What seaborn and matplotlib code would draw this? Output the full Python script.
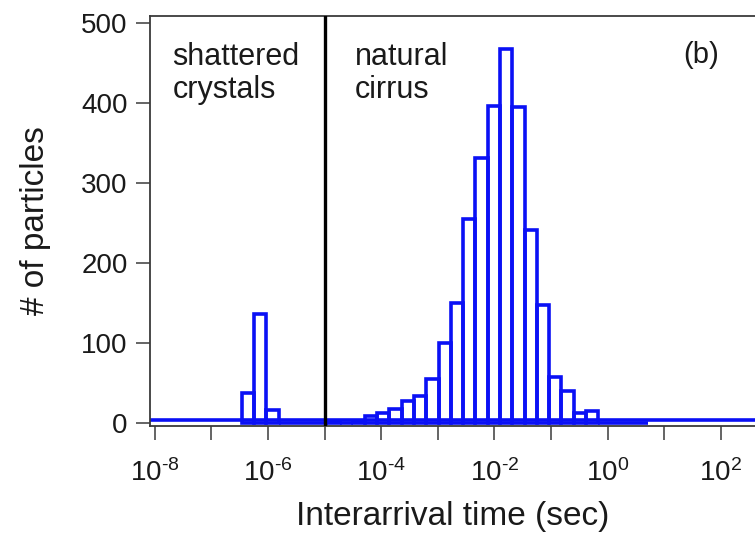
import numpy as np
import pandas as pd
import matplotlib
matplotlib.use("Agg")
import matplotlib.pyplot as plt
from matplotlib.ticker import FixedLocator, FuncFormatter, NullLocator
import seaborn as sns

# Histogram of particle interarrival times, bins 0.5 wide in ln(t)
bin_width_log10 = 0.5 / np.log(10)
first_edge_log10 = -1.901 - 21 * bin_width_log10
counts = [38, 136, 16, 0, 0, 0, 0, 3, 0, 3,
          9, 12, 18, 27, 34, 55, 100, 150, 255, 331,
          396, 467, 395, 241, 148, 58, 40, 13, 15, 0,
          0, 0, 0]
separator_time = 1e-5
baseline_level = 4
decades = list(range(-8, 3))
y_ticks = [0, 100, 200, 300, 400, 500]

n_bins = len(counts)
last_edge_log10 = first_edge_log10 + n_bins * bin_width_log10
centers = 10 ** (first_edge_log10 + bin_width_log10 * (np.arange(n_bins) + 0.5))
hist_df = pd.DataFrame({"time": centers, "count": np.asarray(counts, float)})

sns.set_theme(style="ticks")
plt.rcParams["font.family"] = ["Liberation Sans", "DejaVu Sans"]
plt.rcParams["mathtext.fontset"] = "custom"
plt.rcParams["mathtext.rm"] = "Liberation Sans"
plt.rcParams["mathtext.it"] = "Liberation Sans:italic"
plt.rcParams["mathtext.default"] = "regular"

fig = plt.figure(figsize=(7.55, 5.41), dpi=100)
ax = fig.add_axes([150 / 755, 115 / 541, 605 / 755, 410 / 541])

blue = "#0a10f5"
ax.axhline(baseline_level, color=blue, lw=2.6, zorder=1)
sns.histplot(data=hist_df, x="time", weights="count", bins=n_bins,
             binrange=(first_edge_log10, last_edge_log10),
             log_scale=True, element="bars", fill=False, color=blue,
             linewidth=2.6, ax=ax, zorder=2)
ax.axvline(separator_time, color="black", lw=2.4, zorder=3)

ax.set_xlim(10 ** -8.085, 10 ** 2.604)
ax.set_ylim(-3.75, 508.4)

ax.xaxis.set_major_locator(FixedLocator([10.0 ** d for d in decades]))
ax.xaxis.set_minor_locator(NullLocator())


def decade_label(v, pos):
    e = int(round(np.log10(v)))
    if e % 2:
        return ""
    sign = r"\text{-}" if e < 0 else ""
    return rf"$10^{{{sign}{abs(e)}}}$"


ax.xaxis.set_major_formatter(FuncFormatter(decade_label))
ax.set_yticks(y_ticks)

spine_color = "#3a3a3a"
for side in ("left", "bottom", "top"):
    ax.spines[side].set_color(spine_color)
    ax.spines[side].set_linewidth(1.3)
ax.spines["right"].set_visible(False)
ax.tick_params(axis="both", which="major", direction="out", length=10,
               width=1.1, color=spine_color, labelsize=20, pad=6,
               labelcolor="#1a1a1a")
ax.tick_params(axis="x", pad=14)

ax.set_xlabel("Interarrival time (sec)", fontsize=24, color="#1a1a1a", labelpad=10)
ax.set_ylabel("# of particles", fontsize=24, color="#1a1a1a", labelpad=22)

ax.text(10 ** -7.69, 476, "shattered\ncrystals", fontsize=22, va="top",
        ha="left", color="#1a1a1a", linespacing=1.12)
ax.text(10 ** -4.46, 476, "natural\ncirrus", fontsize=22, va="top",
        ha="left", color="#1a1a1a", linespacing=1.12)
ax.text(10 ** 1.66, 460, "(b)", fontsize=21, va="center", ha="center",
        color="#1a1a1a")

fig.savefig("out.png", dpi=100, facecolor="white")
